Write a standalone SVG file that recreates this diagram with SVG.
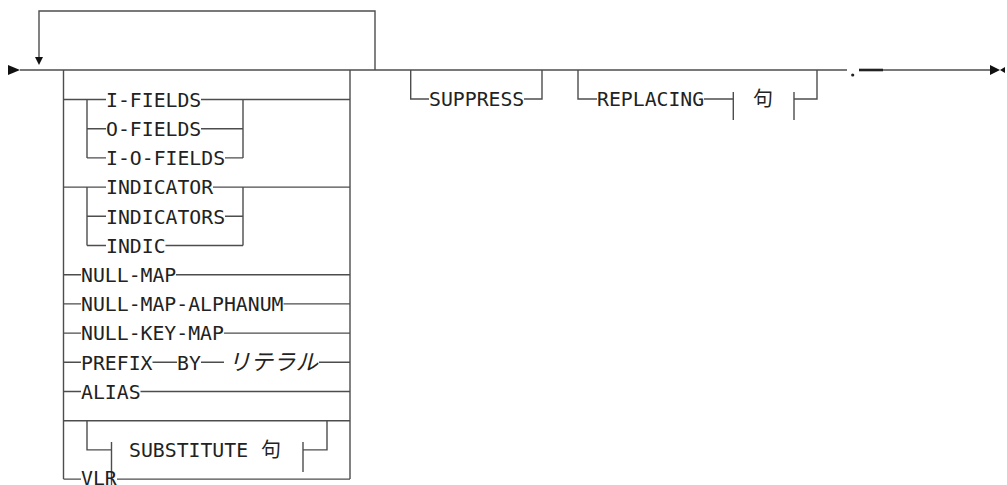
<svg xmlns="http://www.w3.org/2000/svg" width="1007" height="485" viewBox="0 0 1007 485">
<style>
.ln{fill:none;stroke:#4d4d4d;stroke-width:1.4}
.t{font-family:"DejaVu Sans Mono","Liberation Mono",monospace;font-size:19.8px;fill:#222}
.j{font-family:"Noto Sans CJK JP",sans-serif;font-size:20px;fill:#222}
.ji{font-family:"Noto Sans CJK JP",sans-serif;font-size:22.5px;font-style:italic;fill:#222}
.ah{fill:#111}
</style>
<rect width="1007" height="485" fill="#fff"/>
<g id="connectors">
<path class="ln" d="M20 70H847"/>
<path class="ln" d="M39 57V11H375V70"/>
<path class="ln" d="M63.5 70V479.1M350 70V479.1"/>
<path class="ln" d="M63.5 99.5H106M201 99.5H350M87 99.5V157.9M243 99.5V157.9M87 128.7H106M201 128.7H243M87 157.9H106M225 157.9H243"/>
<path class="ln" d="M63.5 187.1H106M213 187.1H350M87 187.1V245.5M243 187.1V245.5M87 216.3H106M225 216.3H243M87 245.5H106M165.5 245.5H243"/>
<path class="ln" d="M63.5 274.7H81M176 274.7H350M63.5 303.9H81M283.5 303.9H350M63.5 333.1H81M224 333.1H350"/>
<path class="ln" d="M63.5 362.3H81M152.5 362.3H177M201 362.3H224M319 362.3H350"/>
<path class="ln" d="M63.5 391.5H81M140.5 391.5H350M63.5 420.7H350"/>
<path class="ln" d="M87 420.7V449.9H111.5M111.5 442V486M303 442V472M303 449.9H327V420.7"/>
<path class="ln" d="M63.5 479.1H81M117 479.1H350"/>
<path class="ln" d="M410.7 70V99H429M524 99H542V70"/>
<path class="ln" d="M578 70V99H597M704 99H733.3M733.3 92V120M794 92V120M794 99H817V70"/>
<path class="ln" d="M883 70H990"/>
<path d="M859 70H883" fill="none" stroke="#222" stroke-width="2.6"/>
<circle cx="852.7" cy="75" r="1.6" fill="#222"/>
<polygon class="ah" points="8,65 20,70 8,75"/>
<polygon class="ah" points="35,57 43,57 39,65"/>
<polygon class="ah" points="990,65 1000,70 990,75"/>
<polygon class="ah" points="1005,67 1000,70 1005,73"/>
</g>
<g id="n-ifields"><text class="t" x="106" y="106.7">I-FIELDS</text></g>
<g id="n-ofields"><text class="t" x="106" y="135.9">O-FIELDS</text></g>
<g id="n-iofields"><text class="t" x="106" y="165.1">I-O-FIELDS</text></g>
<g id="n-indicator"><text class="t" x="106" y="194.3">INDICATOR</text></g>
<g id="n-indicators"><text class="t" x="106" y="223.5">INDICATORS</text></g>
<g id="n-indic"><text class="t" x="106" y="252.7">INDIC</text></g>
<g id="n-nullmap"><text class="t" x="81" y="281.9">NULL-MAP</text></g>
<g id="n-nullmapalpha"><text class="t" x="81" y="311.1">NULL-MAP-ALPHANUM</text></g>
<g id="n-nullkeymap"><text class="t" x="81" y="340.3">NULL-KEY-MAP</text></g>
<g id="n-prefix"><text class="t" x="81" y="369.5">PREFIX</text><text class="t" x="177" y="369.5">BY</text><text class="ji" x="228" y="369.5">リテラル</text></g>
<g id="n-alias"><text class="t" x="81" y="398.7">ALIAS</text></g>
<g id="n-substitute"><text class="t" x="129" y="457.1">SUBSTITUTE</text><text class="j" x="261" y="456.5">句</text></g>
<g id="n-vlr"><text class="t" x="81" y="484.5">VLR</text></g>
<g id="n-suppress"><text class="t" x="429" y="106.2">SUPPRESS</text></g>
<g id="n-replacing"><text class="t" x="597" y="106.2">REPLACING</text><text class="j" x="753" y="105.5">句</text></g>
</svg>
